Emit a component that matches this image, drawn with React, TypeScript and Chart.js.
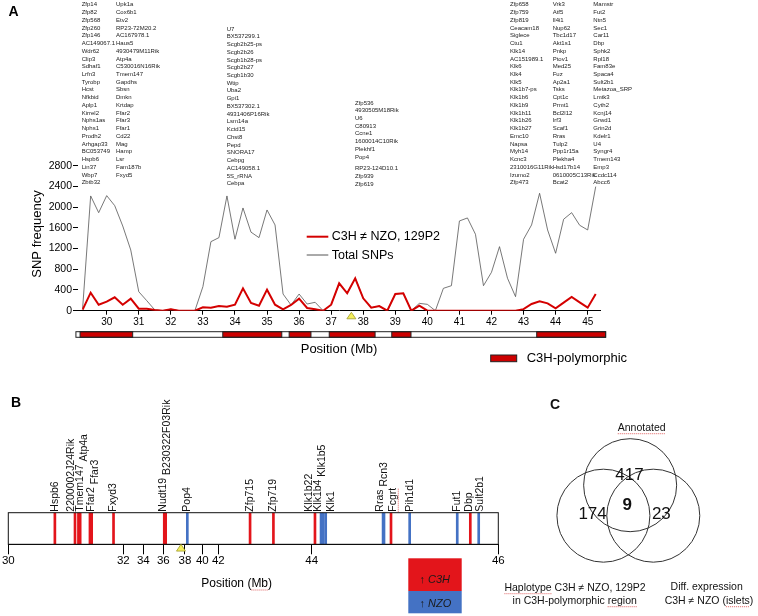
import React, { useEffect, useRef } from 'react';
import { Chart, registerables, LinearScale } from 'chart.js';

Chart.register(...registerables);

const FONT = 'Arial, "Liberation Sans", Helvetica, sans-serif';
const RED = '#e3151b';
const LINE_RED = '#d40000';
const BLUE = '#4472c4';
const SPELL_RED = '#e06060';

// ---------------- Panel A data ----------------
const POSITIONS_MB = [
  29.25, 29.5, 29.75, 30, 30.25, 30.5, 30.75, 31, 31.25, 31.5, 31.75, 32, 32.25, 32.5, 32.75,
  33, 33.25, 33.5, 33.75, 34, 34.25, 34.5, 34.75, 35, 35.25, 35.5, 35.75, 36, 36.25, 36.5, 36.75,
  37, 37.25, 37.5, 37.75, 38, 38.25, 38.5, 38.75, 39, 39.25, 39.5, 39.75, 40, 40.25, 40.5, 40.75,
  41, 41.25, 41.5, 41.75, 42, 42.25, 42.5, 42.75, 43, 43.25, 43.5, 43.75, 44, 44.25, 44.5, 44.75,
  45, 45.25,
];
const TOTAL_SNPS = [
  50, 2216, 1893, 2222, 2029, 1636, 1173, 367, 193, 15, 0, 30, 0, 0, 0,
  464, 1333, 1411, 2216, 1380, 1984, 1517, 1411, 1945, 1656, 322, 110, 322, 129, 162, 0,
  116, 529, 336, 626, 239, 58, 90, 0, 322, 335, 0, 142, 123, 0, 432, 483,
  1733, 1791, 1476, 483, 742, 1237, 626, 271, 1379, 1656, 2268, 1559, 1109, 1766, 1893, 1650,
  1559, 2396,
];
const C3H_SNPS = [
  20, 348, 116, 174, 258, 116, 232, 39, 39, 13, 0, 30, 0, 0, 0,
  66, 58, 90, 75, 116, 432, 150, 97, 406, 116, 27, 110, 232, 52, 27, 0,
  116, 529, 336, 626, 239, 58, 90, 0, 322, 335, 0, 97, 0, 0, 0, 0,
  0, 0, 0, 0, 0, 0, 0, 0, 30, 129, 182, 142, 46, 155, 265, 162,
  58, 322,
];
const A_X_TICKS = [30, 31, 32, 33, 34, 35, 36, 37, 38, 39, 40, 41, 42, 43, 44, 45];
const CHROM_BAR_START_MB = 29.04;
const CHROM_BAR_END_MB = 45.56;
const C3H_POLY_START_MB = [29.17, 33.62, 35.69, 36.94, 38.89, 43.41];
const C3H_POLY_END_MB = [30.81, 35.46, 36.37, 38.37, 39.49, 45.56];
const CANDIDATE_MB = 37.63;

// gene lists above panel A
const COL1 = ['Zfp14', 'Zfp82', 'Zfp568', 'Zfp260', 'Zfp146', 'AC149067.1', 'Wdr62', 'Clip3', 'Sdhaf1', 'Lrfn3', 'Tyrobp', 'Hcst', 'Nfkbid', 'Aplp1', 'Kirrel2', 'Nphs1as', 'Nphs1', 'Prodh2', 'Arhgap33', 'BC053749', 'Hspb6', 'Lin37', 'Wbp7', 'Zbtb32'];
const COL2 = ['Upk1a', 'Cox6b1', 'Etv2', 'RP23-72M20.2', 'AC167978.1', 'Haus5', '4930479M11Rik', 'Atp4a', 'C530016N16Rik', 'Tmem147', 'Gapdhs', 'Sbsn', 'Dmkn', 'Krtdap', 'Ffar2', 'Ffar3', 'Ffar1', 'Cd22', 'Mag', 'Hamp', 'Lsr', 'Fam187b', 'Fxyd5'];
const COL3 = ['U7', 'BX537299.1', 'Scgb2b25-ps', 'Scgb2b26', 'Scgb1b28-ps', 'Scgb2b27', 'Scgb1b30', 'Wtip', 'Uba2', 'Gpi1', 'BX537302.1', '4931406P16Rik', 'Lsm14a', 'Kctd15', 'Chst8', 'Pepd', 'SNORA17', 'Cebpg', 'AC149058.1', '5S_rRNA', 'Cebpa'];
const COL4 = ['Zfp536', '4930505M18Rik', 'U6', 'C80913', 'Ccne1', '1600014C10Rik', 'Plekhf1', 'Pop4'];
const COL4B = ['RP23-124D10.1', 'Zfp939', 'Zfp619'];
const COL5 = ['Zfp658', 'Zfp759', 'Zfp819', 'Ceacam18', 'Siglece', 'Ctu1', 'Klk14', 'AC151989.1', 'Klk6', 'Klk4', 'Klk5', 'Klk1b7-ps', 'Klk1b6', 'Klk1b9', 'Klk1b11', 'Klk1b26', 'Klk1b27', 'Emc10', 'Napsa', 'Myh14', 'Kcnc3', '2310016G11Rik', 'Izumo2', 'Zfp473'];
const COL6 = ['Vrk3', 'Atf5', 'Il4i1', 'Nup62', 'Tbc1d17', 'Akt1s1', 'Pnkp', 'Ptov1', 'Med25', 'Fuz', 'Ap2a1', 'Tsks', 'Cpt1c', 'Prmt1', 'Bcl2l12', 'Irf3', 'Scaf1', 'Rras', 'Tulp2', 'Ppp1r15a', 'Plekha4', 'Hsd17b14', '0610005C13Rik', 'Bcat2'];
const COL7 = ['Mamstr', 'Fut2', 'Ntn5', 'Sec1', 'Car11', 'Dbp', 'Sphk2', 'Rpl18', 'Fam83e', 'Spaca4', 'Sult2b1', 'Metazoa_SRP', 'Lmtk3', 'Cyth2', 'Kcnj14', 'Grwd1', 'Grin2d', 'Kdelr1', 'U4', 'Syngr4', 'Tmem143', 'Emp3', 'Ccdc114', 'Abcc6'];

// ---------------- Panel B data ----------------
const B_AXIS_BREAKS_MB = [30, 32, 34, 36, 38, 40, 42, 44, 46];
const B_AXIS_BREAKS_FRACTION = [0, 0.2347, 0.2755, 0.3163, 0.3606, 0.3959, 0.4286, 0.6192, 1];
const B_GENES = ['Hspb6', '2200002J24Rik', 'Tmem147', 'Atp4a', 'Ffar2', 'Ffar3', 'Fxyd3', 'Nudt19', 'B230322F03Rik', 'Pop4', 'Zfp715', 'Zfp719', 'Klk1b22', 'Klk1b4', 'Klk1', 'Klk1b5', 'Rras', 'Rcn3', 'Fcgrt', 'Pih1d1', 'Fut1', 'Dbp', 'Sult2b1'];
const B_GENE_MB = [30.81, 31.16, 31.22, 31.25, 31.42, 31.45, 31.83, 36.09, 36.22, 38.27, 42.68, 43.18, 44.035, 44.1, 44.124, 44.15, 44.765, 44.775, 44.85, 45.05, 45.56, 45.7, 45.79];
const B_GENE_HIGHER_IN = ['C3H', 'C3H', 'C3H', 'C3H', 'C3H', 'C3H', 'C3H', 'C3H', 'C3H', 'NZO', 'C3H', 'C3H', 'C3H', 'NZO', 'NZO', 'NZO', 'NZO', 'NZO', 'C3H', 'NZO', 'NZO', 'C3H', 'NZO'];
const B_LABEL_GROUPS = [['Hspb6'], ['2200002J24Rik'], ['Tmem147', 'Atp4a'], ['Ffar2', 'Ffar3'], ['Fxyd3'], ['Nudt19', 'B230322F03Rik'], ['Pop4'], ['Zfp715'], ['Zfp719'], ['Klk1b22'], ['Klk1b4', 'Klk1b5'], ['Klk1'], ['Rras', 'Rcn3'], ['Fcgrt'], ['Pih1d1'], ['Fut1'], ['Dbp'], ['Sult2b1']];
const B_SPELL_FLAGGED = ['Fcgrt'];

// ---------------- Panel C data ----------------
const VENN_SETS = ['Annotated', 'Haplotype', 'Diff. expression'];
const VENN_CENTER_X = [0.028, -0.628, 0.596];
const VENN_CENTER_Y = [0.645, -0.323, -0.323];
const VENN_COUNTS = ['417', '174', '23', '9'];
const VENN_COUNT_X = [0.013, -0.894, 0.794, -0.043];
const VENN_COUNT_Y = [0.947, -0.285, -0.272, 0];

// ---------------- piecewise scale for panel B ----------------
function pieceDecimal(v: number): number {
  const b = B_AXIS_BREAKS_MB, f = B_AXIS_BREAKS_FRACTION;
  for (let i = 1; i < b.length; i++) {
    if (v <= b[i] || i === b.length - 1) {
      return f[i - 1] + ((v - b[i - 1]) / (b[i] - b[i - 1])) * (f[i] - f[i - 1]);
    }
  }
  return 1;
}
function pieceValue(d: number): number {
  const b = B_AXIS_BREAKS_MB, f = B_AXIS_BREAKS_FRACTION;
  for (let i = 1; i < f.length; i++) {
    if (d <= f[i] || i === f.length - 1) {
      return b[i - 1] + ((d - f[i - 1]) / (f[i] - f[i - 1])) * (b[i] - b[i - 1]);
    }
  }
  return b[b.length - 1];
}

class PiecewiseScale extends (LinearScale as any) {
  static id = 'piecewise';
  static defaults = { ...(LinearScale as any).defaults };
  buildTicks() {
    return B_AXIS_BREAKS_MB.map((value) => ({ value }));
  }
  getPixelForValue(value: number) {
    return (this as any).getPixelForDecimal(pieceDecimal(value));
  }
  getValueForPixel(pixel: number) {
    return pieceValue((this as any).getDecimalForPixel(pixel));
  }
}
Chart.register(PiecewiseScale as any);

function font(size: number, weight = '', style = '') {
  return `${style} ${weight} ${size}px ${FONT}`.trim();
}

function drawTriangle(ctx: CanvasRenderingContext2D, x: number, apexY: number, h: number, half: number) {
  ctx.beginPath();
  ctx.moveTo(x, apexY);
  ctx.lineTo(x + half, apexY + h);
  ctx.lineTo(x - half, apexY + h);
  ctx.closePath();
  ctx.fillStyle = '#f3ee5c';
  ctx.fill();
  ctx.strokeStyle = '#a09a2a';
  ctx.lineWidth = 0.8;
  ctx.stroke();
}

// dotted "spell-check" underline under one word of a centred/left text
function spellMark(ctx: CanvasRenderingContext2D, text: string, word: string, x: number, y: number, align: 'center' | 'left') {
  const full = ctx.measureText(text).width;
  const start = align === 'center' ? x - full / 2 : x;
  const k = text.indexOf(word);
  if (k < 0) return;
  const off = ctx.measureText(text.slice(0, k)).width;
  const w = ctx.measureText(word).width;
  ctx.save();
  ctx.strokeStyle = SPELL_RED;
  ctx.lineWidth = 1;
  ctx.setLineDash([1, 1]);
  ctx.beginPath();
  ctx.moveTo(start + off, y);
  ctx.lineTo(start + off + w, y);
  ctx.stroke();
  ctx.restore();
}

function spreadLabels(xs: number[], gap: number): number[] {
  let clusters = xs.map((x, i) => ({ idx: [i], sum: x }));
  const start = (c: { idx: number[]; sum: number }) => c.sum / c.idx.length - ((c.idx.length - 1) * gap) / 2;
  let changed = true;
  while (changed) {
    changed = false;
    for (let i = 0; i < clusters.length - 1; i++) {
      const a = clusters[i], b = clusters[i + 1];
      if (start(a) + a.idx.length * gap > start(b)) {
        clusters.splice(i, 2, { idx: [...a.idx, ...b.idx], sum: a.sum + b.sum });
        changed = true;
        break;
      }
    }
  }
  const out: number[] = new Array(xs.length);
  clusters.forEach((c) => {
    const s = start(c);
    c.idx.forEach((k, j) => (out[k] = s + j * gap));
  });
  return out;
}

// ---------------- plugins ----------------
const panelAPlugin = {
  id: 'panelAExtras',
  afterDraw(chart: any) {
    const { ctx } = chart;
    const x = chart.scales.x;
    ctx.save();
    // chromosome bar
    const barTop = 331.7, barH = 5.6;
    const x0 = x.getPixelForValue(CHROM_BAR_START_MB), x1 = x.getPixelForValue(CHROM_BAR_END_MB);
    ctx.fillStyle = '#fff';
    ctx.fillRect(x0, barTop, x1 - x0, barH);
    ctx.strokeStyle = '#222';
    ctx.lineWidth = 1;
    C3H_POLY_START_MB.forEach((s, i) => {
      const a = x.getPixelForValue(s), b = x.getPixelForValue(C3H_POLY_END_MB[i]);
      ctx.fillStyle = '#cc0000';
      ctx.fillRect(a, barTop, b - a, barH);
      ctx.strokeRect(a, barTop, b - a, barH);
    });
    ctx.strokeRect(x0, barTop, x1 - x0, barH);

    // candidate triangle
    drawTriangle(ctx, x.getPixelForValue(CANDIDATE_MB), 312.3, 6.5, 4.5);

    // in-plot legend
    const ds = chart.data.datasets;
    ctx.lineCap = 'butt';
    ctx.strokeStyle = ds[0].borderColor;
    ctx.lineWidth = ds[0].borderWidth;
    ctx.beginPath(); ctx.moveTo(306.7, 236.7); ctx.lineTo(328.3, 236.7); ctx.stroke();
    ctx.strokeStyle = ds[1].borderColor;
    ctx.lineWidth = 1;
    ctx.beginPath(); ctx.moveTo(306.7, 255); ctx.lineTo(328.3, 255); ctx.stroke();
    ctx.fillStyle = '#000';
    ctx.font = font(12.5);
    ctx.textAlign = 'left';
    ctx.textBaseline = 'middle';
    ctx.fillText(ds[0].label, 331.7, 237);
    ctx.fillText(ds[1].label, 331.7, 255.5);

    // axis titles
    ctx.font = font(13);
    ctx.textAlign = 'center';
    ctx.fillText('Position (Mb)', 339, 349);
    ctx.save();
    ctx.translate(37, 234);
    ctx.rotate(-Math.PI / 2);
    ctx.fillText('SNP frequency', 0, 0);
    ctx.restore();

    // C3H-polymorphic legend
    ctx.fillStyle = '#cc0000';
    ctx.fillRect(490.7, 355, 26, 6.7);
    ctx.strokeStyle = '#222';
    ctx.strokeRect(490.7, 355, 26, 6.7);
    ctx.fillStyle = '#000';
    ctx.textAlign = 'left';
    ctx.font = font(13);
    ctx.fillText('C3H-polymorphic', 526.7, 358.8);

    // panel letter
    ctx.font = font(14, 'bold');
    ctx.textAlign = 'center';
    ctx.fillText('A', 13.5, 12);
    ctx.restore();
  },
};

const B_TOP = 395;
const panelBPlugin = {
  id: 'panelBExtras',
  afterDraw(chart: any) {
    const { ctx, chartArea: ca } = chart;
    const x = chart.scales.x;
    ctx.save();
    ctx.strokeStyle = '#111';
    ctx.lineWidth = 1;
    ctx.strokeRect(ca.left, ca.top, ca.right - ca.left, ca.bottom - ca.top);

    // gene labels
    const centers = B_LABEL_GROUPS.map((g) => {
      const px = g.map((n) => x.getPixelForValue(B_GENE_MB[B_GENES.indexOf(n)]));
      return px.reduce((a, b) => a + b, 0) / px.length;
    });
    const placed = spreadLabels(centers, 11);
    ctx.font = font(10.5);
    ctx.fillStyle = '#111';
    ctx.textAlign = 'left';
    ctx.textBaseline = 'middle';
    const stagger = 4;
    B_LABEL_GROUPS.forEach((g, gi) => {
      let along = 0;
      const first = placed[gi] - (stagger * (g.length - 1)) / 2;
      g.forEach((word, wi) => {
        ctx.save();
        ctx.translate(first + wi * stagger, ca.top - 1);
        ctx.rotate(-Math.PI / 2);
        ctx.fillText(word, along, 0);
        if (B_SPELL_FLAGGED.includes(word)) spellMark(ctx, word, word, along, 5.5, 'left');
        ctx.restore();
        along += ctx.measureText(word + ' ').width;
      });
    });

    drawTriangle(ctx, x.getPixelForValue(CANDIDATE_MB), ca.bottom, 6.8, 4.5);

    ctx.fillStyle = '#000';
    ctx.font = font(14, 'bold');
    ctx.textAlign = 'center';
    ctx.fillText('B', 16, 403.3 - B_TOP);
    ctx.font = font(12);
    ctx.fillText('Position (Mb)', 236.7, 583.3 - B_TOP);
    spellMark(ctx, 'Position (Mb)', 'Mb', 236.7, 590 - B_TOP, 'center');

    // legend boxes
    ctx.fillStyle = RED;
    ctx.fillRect(408.3, 558.3 - B_TOP, 53.4, 32.7);
    ctx.fillStyle = BLUE;
    ctx.fillRect(408.3, 591 - B_TOP, 53.4, 22.3);
    ctx.textAlign = 'left';
    ctx.fillStyle = '#1a1a1a';
    const legendRow = (label: string, y: number) => {
      ctx.font = font(11);
      ctx.fillText('\u2191 ', 419.5, y);
      const w = ctx.measureText('\u2191 ').width;
      ctx.font = font(11, '', 'italic');
      ctx.fillText(label, 419.5 + w, y);
    };
    legendRow('C3H', 580 - B_TOP);
    legendRow('NZO', 604.3 - B_TOP);
    ctx.restore();
  },
};

const C_LEFT = 500, C_TOP = 395;
const panelCPlugin = {
  id: 'panelCExtras',
  afterDraw(chart: any) {
    const { ctx } = chart;
    const x = chart.scales.x, y = chart.scales.y;
    ctx.save();
    ctx.fillStyle = '#111';
    ctx.textBaseline = 'middle';
    ctx.textAlign = 'center';
    VENN_COUNTS.forEach((c, i) => {
      ctx.font = i === 3 ? font(17, 'bold') : font(17);
      ctx.fillText(c, x.getPixelForValue(VENN_COUNT_X[i]), y.getPixelForValue(VENN_COUNT_Y[i]));
    });
    ctx.font = font(10.5);
    const texts: [string, number, number, string | null][] = [
      [VENN_SETS[0], 641.7, 427.7, 'Annotated'],
      ['Haplotype C3H \u2260 NZO, 129P2', 575, 587.7, 'Haplotype'],
      ['in C3H-polymorphic region', 574.7, 600.7, 'region'],
      [VENN_SETS[2], 706.7, 587.3, null],
      ['C3H \u2260 NZO (islets)', 709, 600.7, 'islets'],
    ];
    texts.forEach(([t, tx, ty, flag]) => {
      ctx.fillText(t, tx - C_LEFT, ty - C_TOP);
      if (flag) spellMark(ctx, t, flag, tx - C_LEFT, ty - C_TOP + 6, 'center');
    });
    ctx.font = font(14, 'bold');
    ctx.fillText('C', 555 - C_LEFT, 405 - C_TOP);
    ctx.restore();
  },
};

const LIST_LINE = 7.74;
const LIST_LAYOUT = [
  { items: COL1, left: 81.7, top: 1.4 },
  { items: COL2, left: 116, top: 1.4 },
  { items: COL3, left: 226.7, top: 25.6 },
  { items: COL4, left: 355, top: 99.5 },
  { items: COL4B, left: 355, top: 165.1 },
  { items: COL5, left: 510, top: 1.4 },
  { items: COL6, left: 552.7, top: 1.4 },
  { items: COL7, left: 593.3, top: 1.4 },
];

export default function App() {
  const refA = useRef<HTMLCanvasElement>(null);
  const refB = useRef<HTMLCanvasElement>(null);
  const refC = useRef<HTMLCanvasElement>(null);

  useEffect(() => {
    Chart.defaults.font.family = FONT;
    Chart.defaults.color = '#000';

    const chartA = new Chart(refA.current as HTMLCanvasElement, {
      type: 'line',
      data: {
        datasets: [
          {
            label: 'C3H \u2260 NZO, 129P2',
            data: POSITIONS_MB.map((p, i) => ({ x: p, y: C3H_SNPS[i] })),
            borderColor: LINE_RED,
            borderWidth: 2,
            pointRadius: 0,
            tension: 0,
            order: 0,
          },
          {
            label: 'Total SNPs',
            data: POSITIONS_MB.map((p, i) => ({ x: p, y: TOTAL_SNPS[i] })),
            borderColor: '#555555',
            borderWidth: 0.8,
            pointRadius: 0,
            tension: 0,
            order: 1,
          },
        ],
      },
      options: {
        animation: false,
        responsive: false,
        events: [],
        layout: { padding: { left: 0, right: 158, top: 165.7, bottom: 0 } },
        plugins: { legend: { display: false }, tooltip: { enabled: false } },
        scales: {
          x: {
            type: 'linear',
            min: 29.105,
            max: 45.384,
            afterBuildTicks: (s: any) => {
              s.ticks = A_X_TICKS.map((v) => ({ value: v }));
            },
            ticks: { font: { size: 10 }, color: '#000', padding: 2, autoSkip: false, maxRotation: 0, callback: (v: any) => String(v) },
            grid: { drawOnChartArea: false, drawTicks: true, tickLength: 4, color: '#000' },
            border: { display: true, color: '#000', width: 1 },
            afterFit: (s: any) => {
              s.height = 375 - 310.7;
            },
          },
          y: {
            min: 0,
            max: 2800,
            ticks: { stepSize: 400, font: { size: 10.5 }, color: '#000', padding: 1, callback: (v: any) => String(v) },
            grid: { drawOnChartArea: false, drawTicks: true, tickLength: 5, color: '#000' },
            border: { display: false },
            afterFit: (s: any) => {
              s.width = 78;
            },
          },
        },
      } as any,
      plugins: [panelAPlugin],
    });

    const chartB = new Chart(refB.current as HTMLCanvasElement, {
      type: 'bar',
      data: {
        datasets: [
          {
            data: B_GENE_MB.map((mb) => ({ x: mb, y: [0, 1] })) as any,
            backgroundColor: B_GENE_HIGHER_IN.map((h) => (h === 'C3H' ? RED : BLUE)),
            borderWidth: 0,
            barThickness: 2,
            grouped: false,
          },
        ],
      },
      options: {
        animation: false,
        responsive: false,
        events: [],
        layout: { padding: { left: 8.3, right: 510 - 498.3, top: 512.7 - B_TOP, bottom: 0 } },
        plugins: { legend: { display: false }, tooltip: { enabled: false } },
        scales: {
          x: {
            type: 'piecewise',
            min: 30,
            max: 46,
            offset: false,
            ticks: { autoSkip: false, maxRotation: 0, font: { size: 11.5 }, color: '#000', padding: 0, callback: (v: any) => String(v) },
            grid: { drawOnChartArea: false, offset: false, tickLength: 10, color: '#000' },
            border: { display: true, color: '#000' },
            afterFit: (s: any) => {
              s.height = 616 - 544.3;
            },
          },
          y: { min: 0, max: 1, display: false },
        },
      } as any,
      plugins: [panelBPlugin],
    });

    const chartC = new Chart(refC.current as HTMLCanvasElement, {
      type: 'scatter',
      data: {
        datasets: [
          {
            label: 'Venn sets',
            data: VENN_CENTER_X.map((vx, i) => ({ x: vx, y: VENN_CENTER_Y[i] })),
            pointRadius: 46.5,
            pointBackgroundColor: 'rgba(0,0,0,0)',
            pointBorderColor: '#333',
            pointBorderWidth: 1,
            clip: false,
          } as any,
        ],
      },
      options: {
        animation: false,
        responsive: false,
        events: [],
        layout: { padding: { left: 544.7 - C_LEFT, right: 758 - 732.7, top: 428.3 - C_TOP, bottom: 0 } },
        plugins: { legend: { display: false }, tooltip: { enabled: false } },
        scales: {
          x: { min: -2, max: 2, display: false },
          y: { min: -2, max: 2, display: false },
        },
      } as any,
      plugins: [panelCPlugin],
    });

    return () => {
      chartA.destroy();
      chartB.destroy();
      chartC.destroy();
    };
  }, []);

  return (
    <div style={{ position: 'absolute', left: 0, top: 0, width: 758, height: 616, background: '#fff', overflow: 'hidden' }}>
      <canvas ref={refA} width={758} height={375} style={{ position: 'absolute', left: 0, top: 0 }} />
      <canvas ref={refB} width={510} height={221} style={{ position: 'absolute', left: 0, top: B_TOP }} />
      <canvas ref={refC} width={258} height={221} style={{ position: 'absolute', left: C_LEFT, top: C_TOP }} />
      {LIST_LAYOUT.map((col, ci) => (
        <div
          key={ci}
          style={{
            position: 'absolute',
            left: col.left,
            top: col.top,
            fontFamily: FONT,
            fontSize: '6px',
            lineHeight: `${LIST_LINE}px`,
            color: '#222',
            whiteSpace: 'nowrap',
          }}
        >
          {col.items.map((g, gi) => (
            <div key={gi}>{g}</div>
          ))}
        </div>
      ))}
    </div>
  );
}
